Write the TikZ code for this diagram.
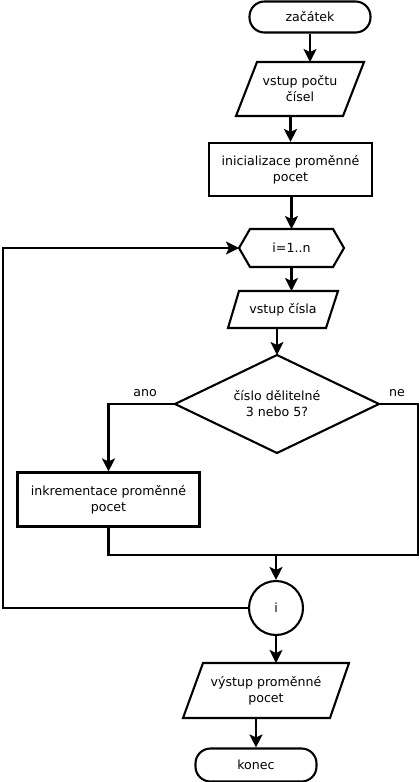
\documentclass[tikz,border=0pt]{standalone}
\usepackage{fontspec}
\setmainfont{DejaVu Sans}
\usetikzlibrary{arrows.meta,calc}
\begin{document}
\begin{tikzpicture}[x=1pt,y=-1pt,
  every node/.style={font=\fontsize{12.6}{16}\selectfont, align=center},
  ln/.style={line width=2.1pt, line join=miter},
  arr/.style={ln, -{Stealth[length=13pt,width=13pt,inset=3pt]}},
  boxnode/.style={draw, line width=2.1pt, rectangle, inner sep=0pt},
  termnode/.style={boxnode, rounded corners=15pt},
  ghost/.style={draw=none, rectangle, inner sep=0pt, outer sep=0pt},
  lbl/.style={inner sep=0pt}]
\useasboundingbox (0,0) rectangle (419,782);

% nodes
\node[termnode, minimum width=121pt, minimum height=31pt] (start) at (310,17) {začátek};
\node[ghost, minimum width=128pt, minimum height=54pt] (in1) at (300,89) {vstup počtu\\čísel};
\node[boxnode, minimum width=163pt, minimum height=53pt] (init) at (290.5,169.5) {inicializace proměnné\\pocet};
\node[ghost, minimum width=105pt, minimum height=38pt] (loop) at (291.5,248) {i=1..n};
\node[ghost, minimum width=110pt, minimum height=37pt] (in2) at (283,309.5) {vstup čísla};
\node[ghost, minimum width=204pt, minimum height=98pt] (dec) at (277,404) {číslo dělitelné\\3 nebo 5?};
\node[boxnode, minimum width=182pt, minimum height=54pt] (incr) at (108.5,499.5) {inkrementace proměnné\\pocet};
\node[boxnode, circle, minimum size=54pt] (circ) at (276,608) {i};
\node[ghost, minimum width=166pt, minimum height=55pt] (out) at (266,690.5) {výstup proměnné\\pocet};
\node[termnode, minimum width=121pt, minimum height=33pt] (end) at (256,765) {konec};
\node[lbl] (ano) at (145,393) {ano};
\node[lbl] (ne) at (397,393) {ne};

\coordinate (merge) at (277,555);
\coordinate (rgt) at (418,555);
\coordinate (lft) at (3,608);

% drawn shapes
\draw[ln] (in1.south west) -- ($(in1.south east)+(-21,0)$) -- (in1.north east) -- ($(in1.north west)+(21,0)$) -- cycle;
\draw[ln] (loop.west) -- ($(loop.north west)+(11,0)$) -- ($(loop.north east)+(-11,0)$) -- (loop.east) -- ($(loop.south east)+(-11,0)$) -- ($(loop.south west)+(11,0)$) -- cycle;
\draw[ln] (in2.south west) -- ($(in2.south east)+(-12,0)$) -- (in2.north east) -- ($(in2.north west)+(11,0)$) -- cycle;
\draw[ln] (dec.north) -- (dec.east) -- (dec.south) -- (dec.west) -- cycle;
\draw[ln] (out.south west) -- ($(out.south east)+(-19,0)$) -- (out.north east) -- ($(out.north west)+(20,0)$) -- cycle;

% connectors
\draw[arr] (start.south) -- (start.south |- in1.north);
\draw[arr] (init.north |- in1.south) -- (init.north);
\draw[arr] (loop.north |- init.south) -- (loop.north);
\draw[arr] (loop.south) -- (loop.south |- in2.north);
\draw[arr] (dec.north |- in2.south) -- (dec.north);
\draw[arr] (dec.west) -| (incr.north);
\draw[ln] (dec.east) -| (rgt) -| (incr.south);
\draw[arr] (circ.north |- merge) -- (circ.north);
\draw[arr] (circ.west) -- (lft) |- (loop.west);
\draw[arr] (circ.south) -- (circ.south |- out.north);
\draw[arr] (end.north |- out.south) -- (end.north);
\end{tikzpicture}
\end{document}
